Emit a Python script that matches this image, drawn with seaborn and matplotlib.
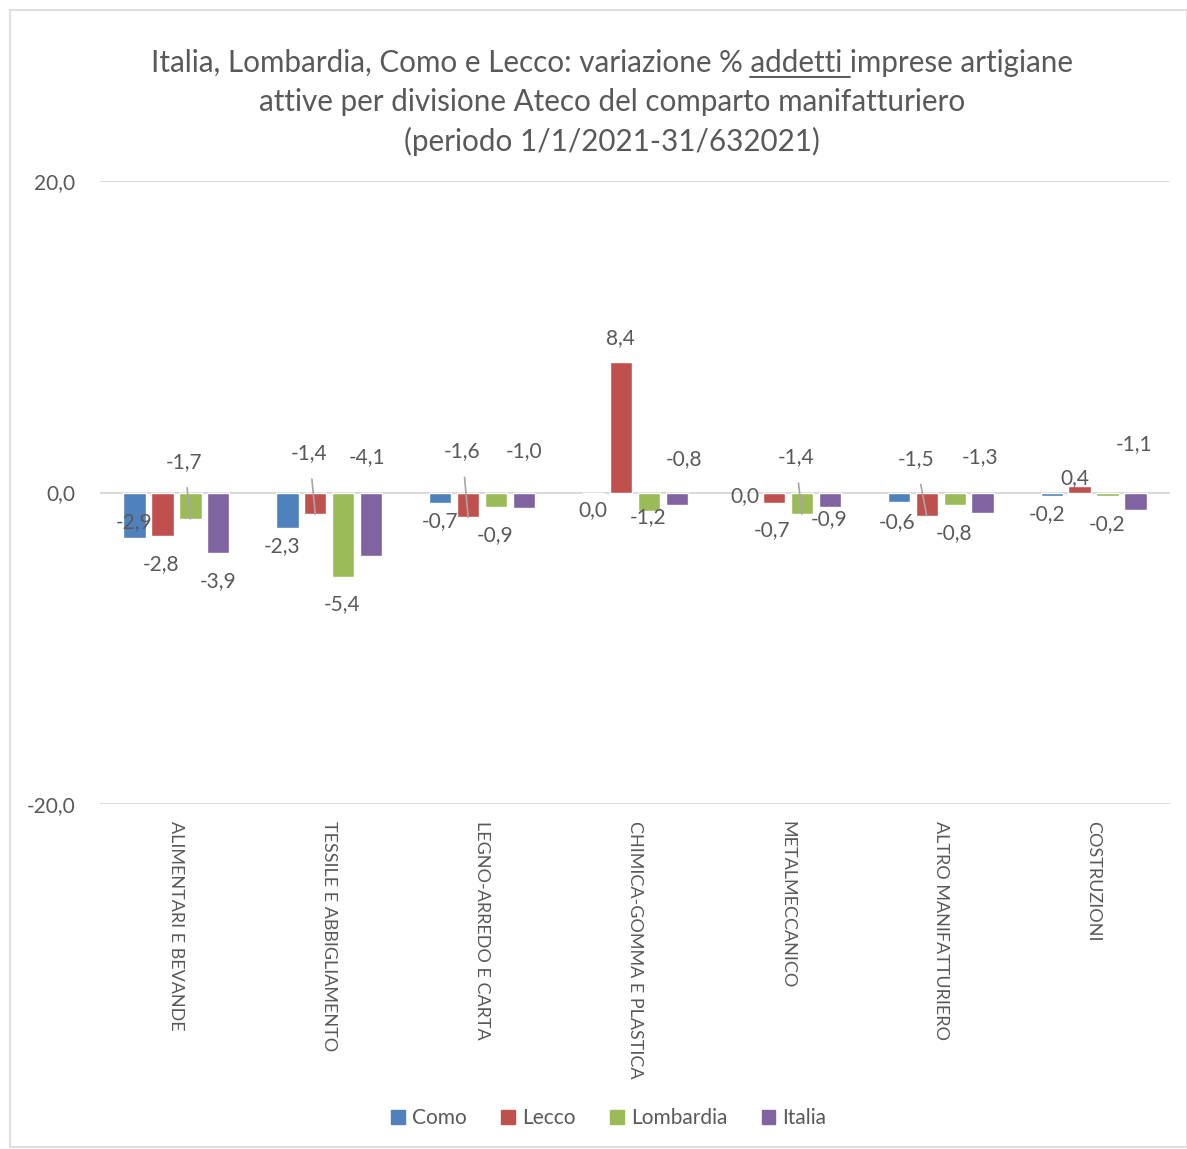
import numpy as np
import pandas as pd
import matplotlib
matplotlib.use("Agg")
import matplotlib.pyplot as plt
from matplotlib.patches import Rectangle
from matplotlib.lines import Line2D
import seaborn as sns

# dati
categorie = ["ALIMENTARI E BEVANDE", "TESSILE E ABBIGLIAMENTO", "LEGNO-ARREDO E CARTA",
             "CHIMICA-GOMMA E PLASTICA", "METALMECCANICO", "ALTRO MANIFATTURIERO",
             "COSTRUZIONI"]
serie = ["Como", "Lecco", "Lombardia", "Italia"]
como = [-2.9, -2.3, -0.7, 0.0, 0.0, -0.6, -0.2]
lecco = [-2.8, -1.4, -1.6, 8.4, -0.7, -1.5, 0.4]
lombardia = [-1.7, -5.4, -0.9, -1.2, -1.4, -0.8, -0.2]
italia = [-3.9, -4.1, -1.0, -0.8, -0.9, -1.3, -1.1]
tick_valori = [-20, 0, 20]

colori = ["#4F81BD", "#C0504D", "#9BBB59", "#8064A2"]
grigio_testo = "#595959"

# spostamento etichette (pixel) rispetto alla fine della barra, e linea guida si/no
offset_etichette = {
    "Como": [(-1, 16, 0), (-5, -18, 0), (0, -18, 0), (0, -18, 0), (-1, -4, 0), (-2, -20, 0), (-5, -18, 0)],
    "Lecco": [(-1, -28, 0), (-6, 61, 1), (-6, 66, 1), (-1, 24, 0), (-2, -27, 0), (-11, 57, 1), (-5, 8, 0)],
    "Lombardia": [(-6, 57, 1), (-1, -27, 0), (-1, -29, 0), (-1, -6, 0), (-6, 57, 1), (-1, -28, 0), (0, -28, 0)],
    "Italia": [(0, -28, 0), (-4, 99, 0), (0, 57, 0), (7, 46, 0), (-1, -13, 0), (-2, 56, 0), (-1, 66, 0)],
}

df = pd.DataFrame({
    "categoria": categorie * 4,
    "serie": np.repeat(serie, len(categorie)),
    "valore": como + lecco + lombardia + italia,
})

sns.set_theme(style="white")
plt.rcParams["font.family"] = ["Lato", "DejaVu Sans"]

fig = plt.figure(figsize=(11.87, 11.49), dpi=100)
ax = fig.add_axes([100 / 1187, 1 - 804 / 1149, 1070 / 1187, 623 / 1149])

sns.barplot(data=df, x="categoria", y="valore", hue="serie", palette=colori,
            width=0.73, gap=0.2, saturation=1, errorbar=None, ax=ax)

ax.set_ylim(-20, 20)
ax.set_xlim(-0.5, len(categorie) - 0.5)
ax.set_yticks(tick_valori)
ax.set_yticklabels([f"{v:.1f}".replace(".", ",") for v in tick_valori],
                   fontsize=15, color=grigio_testo)
for v in tick_valori:
    ax.axhline(v, color="#D9D9D9", lw=1.4, zorder=0)
ax.tick_params(axis="y", length=0, pad=18)
ax.tick_params(axis="x", length=0, pad=12)
ax.set_xticks(range(len(categorie)))
ax.set_xticklabels(categorie, rotation=-90, fontsize=13, color=grigio_testo,
                   ha="center", va="top")
ax.set_xlabel("")
ax.set_ylabel("")
for s in ax.spines.values():
    s.set_visible(False)

# etichette dati
for i, nome in enumerate(serie):
    cont = ax.containers[i]
    valori = df[df.serie == nome].valore.values
    for bar, v, (dx, dy, guida) in zip(cont, valori, offset_etichette[nome]):
        xc = bar.get_x() + bar.get_width() / 2
        testo = f"{v:.1f}".replace(".", ",")
        freccia = None
        if guida:
            freccia = dict(arrowstyle="-", color="#A6A6A6", lw=1.2, shrinkA=9, shrinkB=0)
        ax.annotate(testo, xy=(xc, v), xytext=(dx, dy), textcoords="offset pixels",
                    ha="center", va="center", fontsize=15, color=grigio_testo,
                    arrowprops=freccia, zorder=5)

ax.get_legend().remove()
handles = [Rectangle((0, 0), 1, 1, color=c) for c in colori]
fig.legend(handles, serie, loc="center", bbox_to_anchor=(0.513, 1 - 1118 / 1149),
           ncol=4, frameon=False, fontsize=15, handlelength=0.65, handleheight=0.65,
           handletextpad=0.35, columnspacing=1.65, labelcolor=grigio_testo)

# titolo su tre righe, "addetti " sottolineato
riga1 = "Italia, Lombardia, Como e Lecco: variazione % addetti imprese artigiane"
righe = [riga1,
         "attive per divisione Ateco del comparto manifatturiero",
         "(periodo 1/1/2021-31/632021)"]
fs_titolo = 21.3
xt = 612 / 1187
for k, r in enumerate(righe):
    fig.text(xt, 1 - (63 + 39 * k) / 1149, r, ha="center", va="center",
             fontsize=fs_titolo, color=grigio_testo)

fig.canvas.draw()
rend = fig.canvas.get_renderer()
def larghezza(s):
    t = fig.text(0, 0, s, fontsize=fs_titolo)
    w = t.get_window_extent(rend).width
    t.remove()
    return w
w_tot = larghezza(riga1)
w_pre = larghezza("Italia, Lombardia, Como e Lecco: variazione % ")
w_pre_nospace = larghezza("Italia, Lombardia, Como e Lecco: variazione %")
spazio = larghezza("x x") - larghezza("xx")
w_pre = max(w_pre, w_pre_nospace + spazio)
w_add = larghezza("addetti") + spazio
x0 = xt * 1187 - w_tot / 2 + w_pre
yl = 1149 - 63 - 14
fig.add_artist(Line2D([x0 / 1187, (x0 + w_add) / 1187], [yl / 1149, yl / 1149],
                      color=grigio_testo, lw=1.4, transform=fig.transFigure))

# cornice del grafico
fig.add_artist(Rectangle((10 / 1187, 2 / 1149), 1 - 10 / 1187, 1 - 12 / 1149,
                         transform=fig.transFigure, fill=False, ec="#D9D9D9", lw=1.2))

fig.savefig("out.png", dpi=100)
